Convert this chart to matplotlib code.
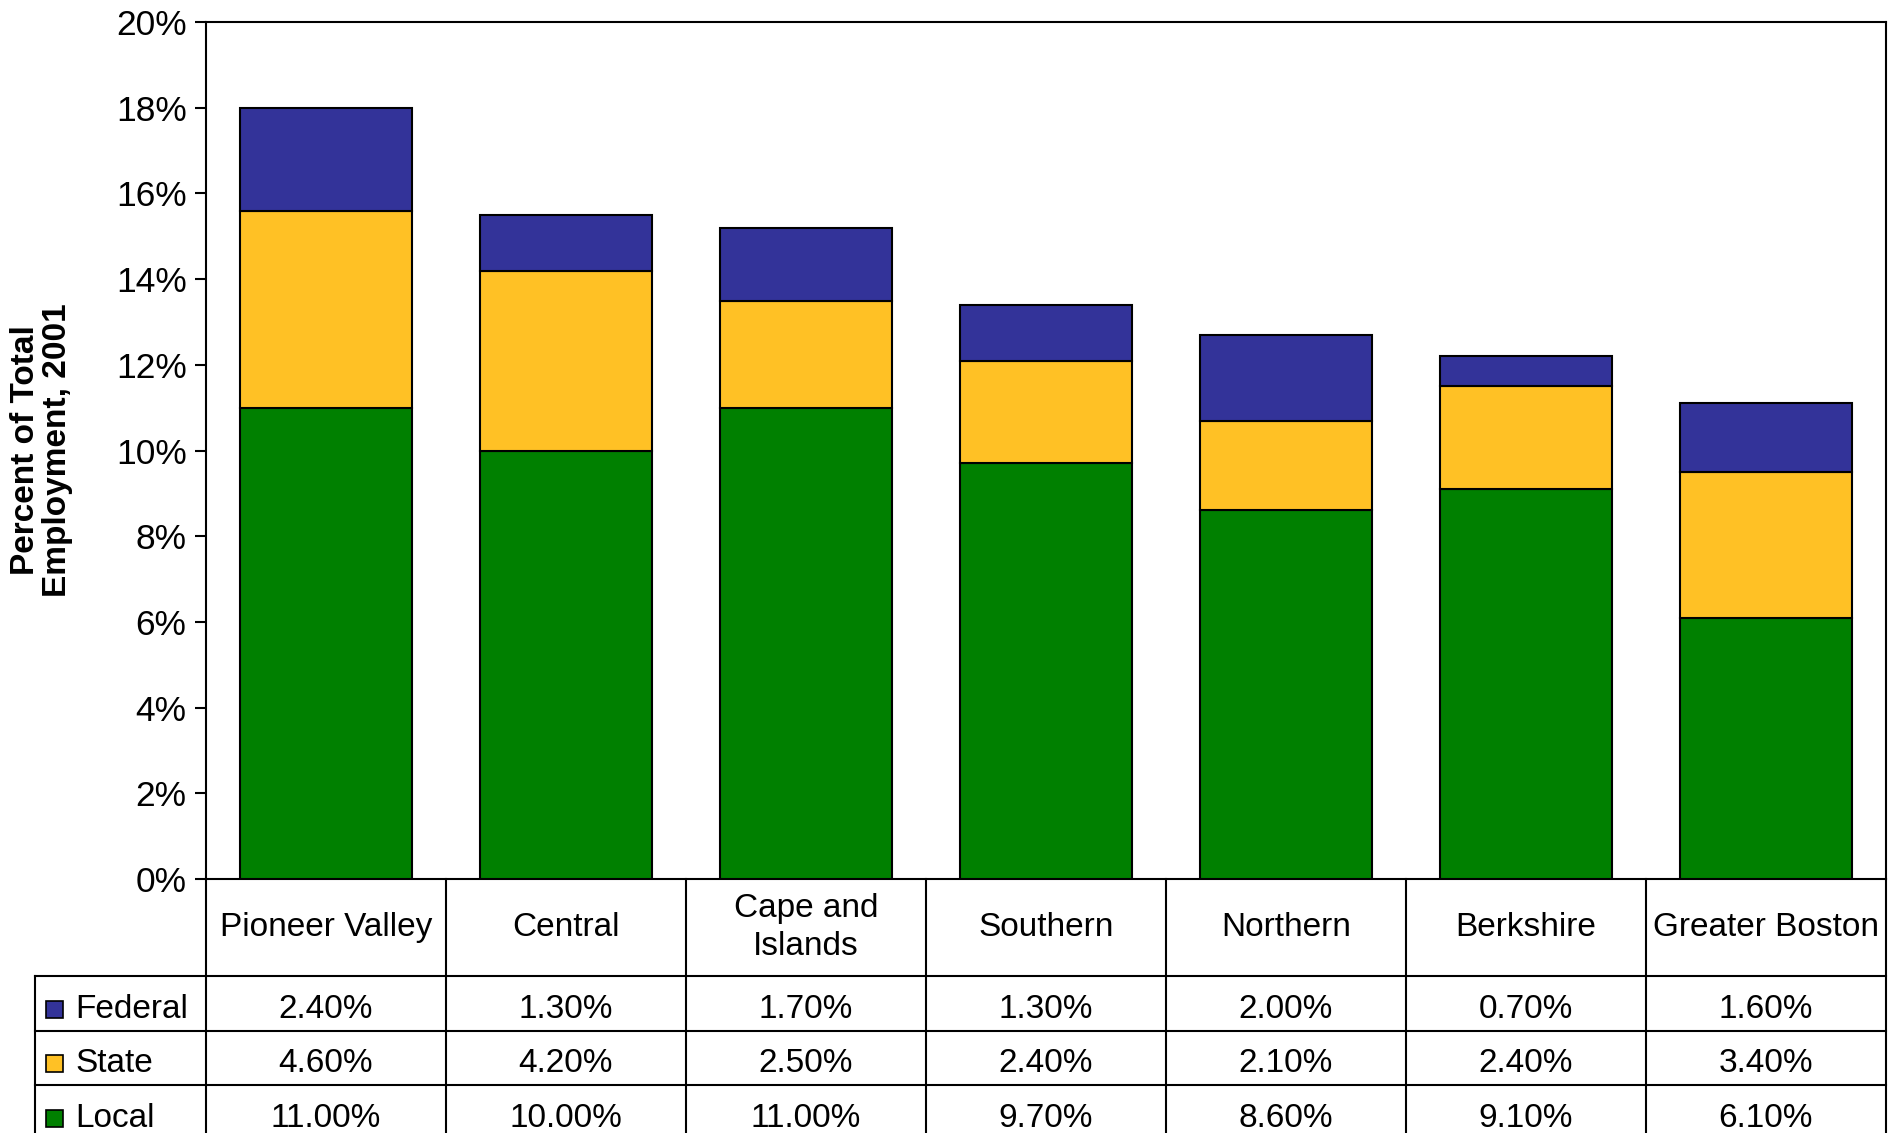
"""
Government employment share by region, 2001 - stacked bars with an Excel-style data table.
"""

import matplotlib
matplotlib.use("Agg")
import matplotlib.pyplot as plt
from matplotlib.patches import Rectangle
from matplotlib.ticker import FuncFormatter

plt.rcParams['font.family'] = ['Liberation Sans', 'DejaVu Sans']

# Data (percent of total employment)
regions = ['Pioneer Valley', 'Central', 'Cape and\nIslands', 'Southern',
           'Northern', 'Berkshire', 'Greater Boston']
local = [11.0, 10.0, 11.0, 9.7, 8.6, 9.1, 6.1]
state = [4.6, 4.2, 2.5, 2.4, 2.1, 2.4, 3.4]
federal = [2.4, 1.3, 1.7, 1.3, 2.0, 0.7, 1.6]
series_names = ['Federal', 'State', 'Local']

colors = {'Federal': '#333399', 'State': '#FFC125', 'Local': '#008000'}

W, H = 1890, 1133
FS = 24

fig = plt.figure(figsize=(W / 100, H / 100), dpi=100)

# main plot area (pixel layout)
ax_l, ax_r, ax_t, ax_b = 206, 1886, 22, 879
ax = fig.add_axes([ax_l / W, 1 - ax_b / H, (ax_r - ax_l) / W, (ax_b - ax_t) / H])

x = list(range(len(regions)))
bar_w = 0.72
ax.bar(x, local, bar_w, color=colors['Local'], edgecolor='black', linewidth=1.5, zorder=3)
bottom2 = local
ax.bar(x, state, bar_w, bottom=bottom2, color=colors['State'], edgecolor='black',
       linewidth=1.5, zorder=3)
bottom3 = [a + b for a, b in zip(local, state)]
ax.bar(x, federal, bar_w, bottom=bottom3, color=colors['Federal'], edgecolor='black',
       linewidth=1.5, zorder=3)

ax.set_xlim(-0.5, len(regions) - 0.5)
ax.set_ylim(0, 20)
ax.set_yticks(range(0, 21, 2))
ax.yaxis.set_major_formatter(FuncFormatter(lambda v, p: f'{v:.0f}%'))
ax.tick_params(axis='y', labelsize=25.5, length=8, width=1.5, pad=6)
ax.set_xticks([])
for s in ax.spines.values():
    s.set_linewidth(1.5)
ax.set_ylabel('Percent of Total\nEmployment, 2001', fontsize=FS, fontweight='bold',
              labelpad=31, linespacing=1.05)

# data table below the plot
col_px = (ax_r - ax_l) / len(regions)
tab_l = 35
lab_w = (ax_l - tab_l) / col_px
tax = fig.add_axes([tab_l / W, 0, (ax_r - tab_l) / W, (H - ax_b) / H])
tax.set_xlim(-0.5 - lab_w, len(regions) - 0.5)
tax.set_ylim(H, ax_b)
tax.axis('off')

head_h = 97
row_h = 54.5
y_head_bot = ax_b + head_h
row_edges = [y_head_bot + i * row_h for i in range(len(series_names) + 1)]
lw = 1.5

# vertical lines
for i in range(len(regions) + 1):
    tax.plot([i - 0.5, i - 0.5], [ax_b, H + 10], color='black', lw=lw, clip_on=False)
tax.plot([-0.5 - lab_w, -0.5 - lab_w], [y_head_bot, H + 10], color='black', lw=lw,
         clip_on=False)
# horizontal lines
for y in row_edges:
    tax.plot([-0.5 - lab_w, len(regions) - 0.5], [y, y], color='black', lw=lw, clip_on=False)

# header
for i, name in enumerate(regions):
    tax.text(i, ax_b + head_h / 2, name, ha='center', va='center', fontsize=FS,
             linespacing=1.3)

table_rows = {'Federal': federal, 'State': state, 'Local': local}
sq = 17
sq_w = sq / col_px
for r, name in enumerate(series_names):
    yc = row_edges[r] + row_h / 2 + 6
    tax.add_patch(Rectangle((-0.5 - lab_w + 11 / col_px, yc - sq / 2), sq_w, sq,
                            facecolor=colors[name], edgecolor='black', lw=1.2))
    tax.text(-0.5 - lab_w + 40 / col_px, yc, name, ha='left', va='center', fontsize=FS)
    for i, v in enumerate(table_rows[name]):
        tax.text(i, yc, f'{v:.2f}%', ha='center', va='center', fontsize=FS)

fig.savefig('out.png', dpi=100)
